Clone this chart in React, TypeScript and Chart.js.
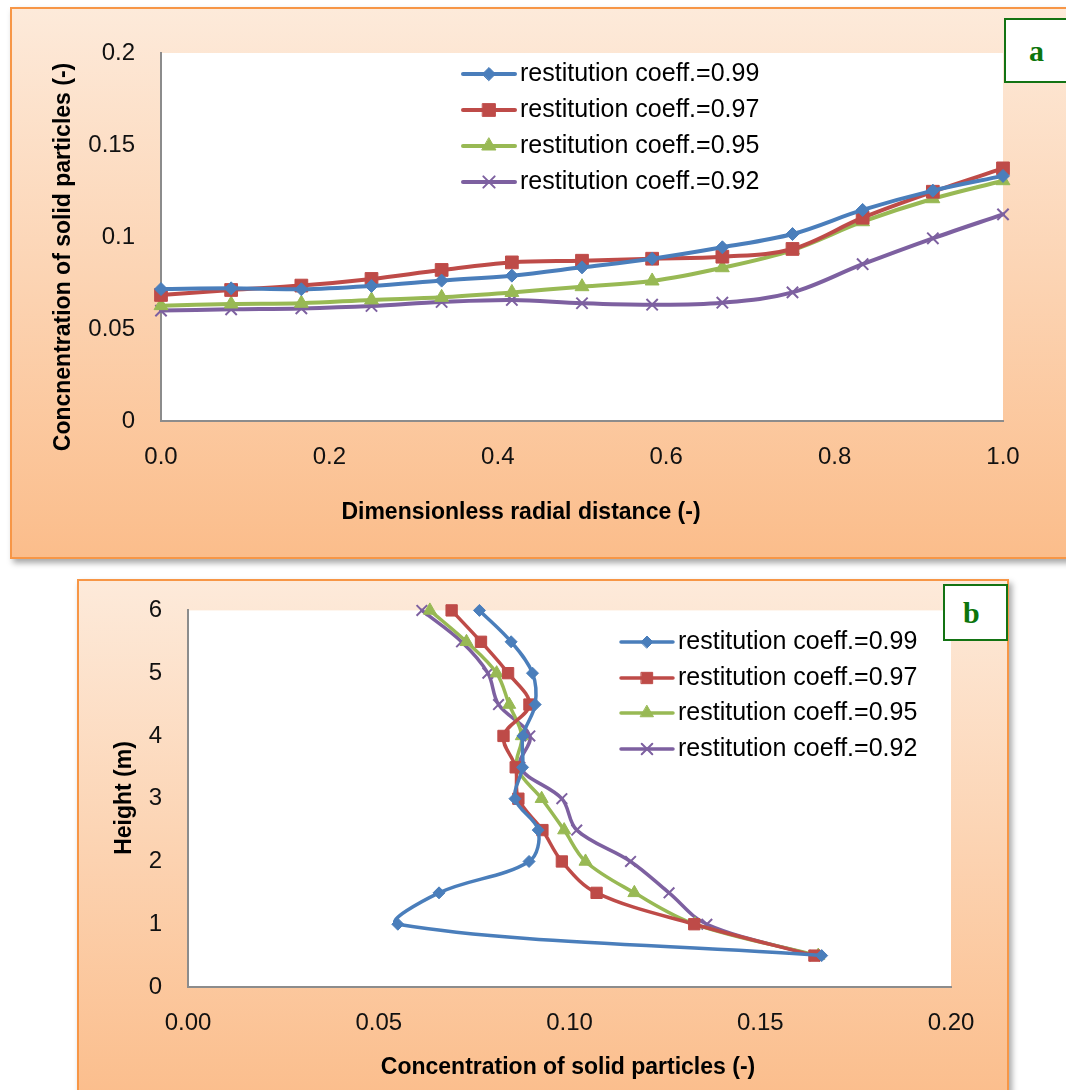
import React, { useEffect, useRef } from "react";
import { Chart, registerables } from "chart.js";
import { drawPoint } from "chart.js/helpers";

Chart.register(...registerables);

// ---------- data ----------
const seriesLabels = [
  "restitution coeff.=0.99",
  "restitution coeff.=0.97",
  "restitution coeff.=0.95",
  "restitution coeff.=0.92",
];

// panel a: concentration vs dimensionless radial distance
const radialDistance = [0, 0.0833, 0.1667, 0.25, 0.3333, 0.4167, 0.5, 0.5833, 0.6667, 0.75, 0.8333, 0.9167, 1.0];
const concA099 = [0.0717, 0.0721, 0.0716, 0.0734, 0.0763, 0.079, 0.0835, 0.0882, 0.0944, 0.1016, 0.1147, 0.1252, 0.1332];
const concA097 = [0.0685, 0.0712, 0.0736, 0.0772, 0.0821, 0.0862, 0.0871, 0.0882, 0.0893, 0.0935, 0.1105, 0.1246, 0.1373];
const concA095 = [0.0627, 0.0636, 0.064, 0.0658, 0.0672, 0.0699, 0.073, 0.0761, 0.0833, 0.0929, 0.1083, 0.1208, 0.1306];
const concA092 = [0.06, 0.0607, 0.0612, 0.0625, 0.0647, 0.0658, 0.064, 0.0632, 0.0643, 0.0699, 0.0852, 0.0993, 0.1123];

// panel b: height vs concentration
const heightsB = [6, 5.5, 5, 4.5, 4, 3.5, 3, 2.5, 2, 1.5, 1, 0.5];
const concB099 = [0.0764, 0.0847, 0.0903, 0.091, 0.0878, 0.0877, 0.0857, 0.0918, 0.0894, 0.0658, 0.055, 0.1661];
const concB097 = [0.0691, 0.0768, 0.0839, 0.0895, 0.0827, 0.0859, 0.0866, 0.0929, 0.098, 0.1071, 0.1327, 0.1642];
const concB095 = [0.0634, 0.073, 0.0809, 0.0842, 0.0875, 0.0862, 0.0927, 0.0986, 0.1042, 0.117, 0.1329, 0.1652];
const concB092 = [0.0613, 0.0717, 0.0786, 0.0814, 0.0896, 0.087, 0.098, 0.1019, 0.116, 0.1261, 0.136, 0.1643];

const xTicksA = ["0.0", "0.2", "0.4", "0.6", "0.8", "1.0"];
const yTicksA = ["0", "0.05", "0.1", "0.15", "0.2"];
const xTicksB = ["0.00", "0.05", "0.10", "0.15", "0.20"];
const yTicksB = ["0", "1", "2", "3", "4", "5", "6"];

// ---------- styles ----------
const COLORS = ["#4a7ebb", "#be4b48", "#98b954", "#7d60a0"];
const STYLES = ["rectRot", "rect", "triangle", "crossRot"];
const SANS = "'Liberation Sans', Arial, sans-serif";

type Spec = {
  top: number;
  width: number;
  height: number;
  area: { left: number; top: number; right: number; bottom: number };
  x: { min: number; max: number; step: number; labels: string[] };
  y: { min: number; max: number; step: number; labels: string[] };
  series: { x: number; y: number }[][];
  lineWidth: number;
  radii: number[];
  legend: { x0: number; x1: number; tx: number; rows: number[] };
  xTitle: { text: string; x: number; y: number };
  yTitle: { text: string; x: number; y: number };
};

function buildChart(canvas: HTMLCanvasElement, s: Spec) {
  const datasets = s.series.map((pts, i) => ({
    label: seriesLabels[i],
    data: pts,
    showLine: true,
    borderColor: COLORS[i],
    backgroundColor: COLORS[i],
    borderWidth: s.lineWidth,
    borderJoinStyle: "round" as const,
    borderCapStyle: "round" as const,
    pointStyle: STYLES[i] as any,
    pointRadius: s.radii[i],
    pointHoverRadius: s.radii[i],
    pointBackgroundColor: COLORS[i],
    pointBorderColor: COLORS[i],
    pointBorderWidth: i === 3 ? 2 : 1,
    tension: 0.35,
    clip: false as any,
  }));

  const decor = {
    id: "decor",
    beforeDraw(chart: any) {
      const { ctx, chartArea } = chart;
      ctx.save();
      ctx.fillStyle = "#ffffff";
      ctx.fillRect(chartArea.left, chartArea.top, chartArea.right - chartArea.left, chartArea.bottom - chartArea.top);
      ctx.restore();
    },
    afterDraw(chart: any) {
      const ctx = chart.ctx as CanvasRenderingContext2D;
      ctx.save();
      // legend
      s.legend.rows.forEach((y, i) => {
        ctx.strokeStyle = COLORS[i];
        ctx.lineWidth = s.lineWidth;
        ctx.lineCap = "round";
        ctx.beginPath();
        ctx.moveTo(s.legend.x0, y);
        ctx.lineTo(s.legend.x1, y);
        ctx.stroke();
        ctx.fillStyle = COLORS[i];
        ctx.lineWidth = i === 3 ? 2 : 1;
        drawPoint(
          ctx,
          { pointStyle: STYLES[i] as any, rotation: 0, radius: s.radii[i], borderWidth: i === 3 ? 2 : 1 } as any,
          (s.legend.x0 + s.legend.x1) / 2,
          y
        );
        ctx.fillStyle = "#000000";
        ctx.font = `25px ${SANS}`;
        ctx.textAlign = "left";
        ctx.textBaseline = "middle";
        ctx.fillText(seriesLabels[i], s.legend.tx, y);
      });
      // axis titles
      ctx.fillStyle = "#000000";
      ctx.font = `bold 23px ${SANS}`;
      ctx.textAlign = "center";
      ctx.textBaseline = "middle";
      ctx.fillText(s.xTitle.text, s.xTitle.x, s.xTitle.y);
      ctx.translate(s.yTitle.x, s.yTitle.y);
      ctx.rotate(-Math.PI / 2);
      ctx.fillText(s.yTitle.text, 0, 0);
      ctx.restore();
    },
  };

  const tickFont = { family: SANS, size: 24 };
  const border = { display: true, color: "#8c8c8c", width: 2 };

  return new Chart(canvas, {
    type: "scatter",
    data: { datasets: datasets as any },
    options: {
      responsive: false,
      animation: false,
      events: [],
      layout: {
        padding: { left: 0, top: s.area.top, right: s.width - s.area.right, bottom: 0 },
      },
      plugins: { legend: { display: false }, tooltip: { enabled: false } },
      scales: {
        x: {
          type: "linear",
          min: s.x.min,
          max: s.x.max,
          grid: { display: false, drawTicks: false },
          border,
          ticks: {
            stepSize: s.x.step,
            autoSkip: false,
            maxRotation: 0,
            padding: 22,
            color: "#111111",
            font: tickFont,
            callback: (_v: any, i: number) => s.x.labels[i],
          },
          afterFit: (sc: any) => {
            sc.height = s.height - s.area.bottom;
          },
        },
        y: {
          type: "linear",
          min: s.y.min,
          max: s.y.max,
          grid: { display: false, drawTicks: false },
          border,
          ticks: {
            stepSize: s.y.step,
            autoSkip: false,
            padding: 26,
            color: "#111111",
            font: tickFont,
            callback: (_v: any, i: number) => s.y.labels[i],
          },
          afterFit: (sc: any) => {
            sc.width = s.area.left;
          },
        },
      },
    },
    plugins: [decor],
  } as any);
}

function ChartCanvas({ spec }: { spec: Spec }) {
  const ref = useRef<HTMLCanvasElement>(null);
  useEffect(() => {
    const chart = buildChart(ref.current as HTMLCanvasElement, spec);
    return () => chart.destroy();
  }, []);
  return (
    <canvas
      ref={ref}
      width={spec.width}
      height={spec.height}
      style={{ position: "absolute", left: 0, top: spec.top, width: spec.width, height: spec.height }}
    />
  );
}

const seriesA = [concA099, concA097, concA095, concA092].map((vals) =>
  vals.map((v, j) => ({ x: radialDistance[j], y: v }))
);
const seriesB = [concB099, concB097, concB095, concB092].map((vals) =>
  vals.map((v, j) => ({ x: v, y: heightsB[j] }))
);

const specA: Spec = {
  top: 0,
  width: 1066,
  height: 570,
  area: { left: 161, top: 53, right: 1003, bottom: 421 },
  x: { min: 0, max: 1, step: 0.2, labels: xTicksA },
  y: { min: 0, max: 0.2, step: 0.05, labels: yTicksA },
  series: seriesA,
  lineWidth: 4,
  radii: [6.5, 9, 8, 8],
  legend: { x0: 463, x1: 515, tx: 520, rows: [74, 110, 146, 182] },
  xTitle: { text: "Dimensionless radial distance (-)", x: 521, y: 513 },
  yTitle: { text: "Concnentration of solid particles (-)", x: 64, y: 257 },
};

const specB: Spec = {
  top: 570,
  width: 1066,
  height: 520,
  area: { left: 188, top: 36, right: 951, bottom: 417 },
  x: { min: 0, max: 0.2, step: 0.05, labels: xTicksB },
  y: { min: 0, max: 6, step: 1, labels: yTicksB },
  series: seriesB,
  lineWidth: 3.5,
  radii: [6, 8, 7.5, 7.5],
  legend: { x0: 621, x1: 673, tx: 678, rows: [72, 108, 143, 179] },
  xTitle: { text: "Concentration of solid particles (-)", x: 568, y: 498 },
  yTitle: { text: "Height (m)", x: 125, y: 228 },
};

const boxStyle = (left: number, top: number, width: number, height: number): React.CSSProperties => ({
  position: "absolute",
  left,
  top,
  width,
  height,
  boxSizing: "border-box",
  border: "2px solid #f79646",
  background: "linear-gradient(#fdeada, #fbbd8b)",
  boxShadow: "3px 4px 6px rgba(0,0,0,0.35)",
});

const labelBox = (left: number, top: number, width: number, height: number, padLeft: number): React.CSSProperties => ({
  position: "absolute",
  left,
  top,
  width,
  height,
  boxSizing: "border-box",
  border: "2px solid #137313",
  background: "#ffffff",
  color: "#0c750c",
  fontFamily: "'Liberation Serif', 'Times New Roman', serif",
  fontWeight: "bold",
  fontSize: 30,
  lineHeight: `${height - 4}px`,
  paddingLeft: padLeft,
});

export default function App() {
  return (
    <div style={{ position: "absolute", left: 0, top: 0, width: 1066, height: 1090, overflow: "hidden", background: "#ffffff" }}>
      <div style={boxStyle(10, 7, 1080, 552)} />
      <ChartCanvas spec={specA} />
      <div style={labelBox(1004, 18, 80, 65, 23)}>a</div>
      <div style={boxStyle(77, 579, 932, 530)} />
      <ChartCanvas spec={specB} />
      <div style={labelBox(943, 584, 65, 57, 18)}>b</div>
    </div>
  );
}
